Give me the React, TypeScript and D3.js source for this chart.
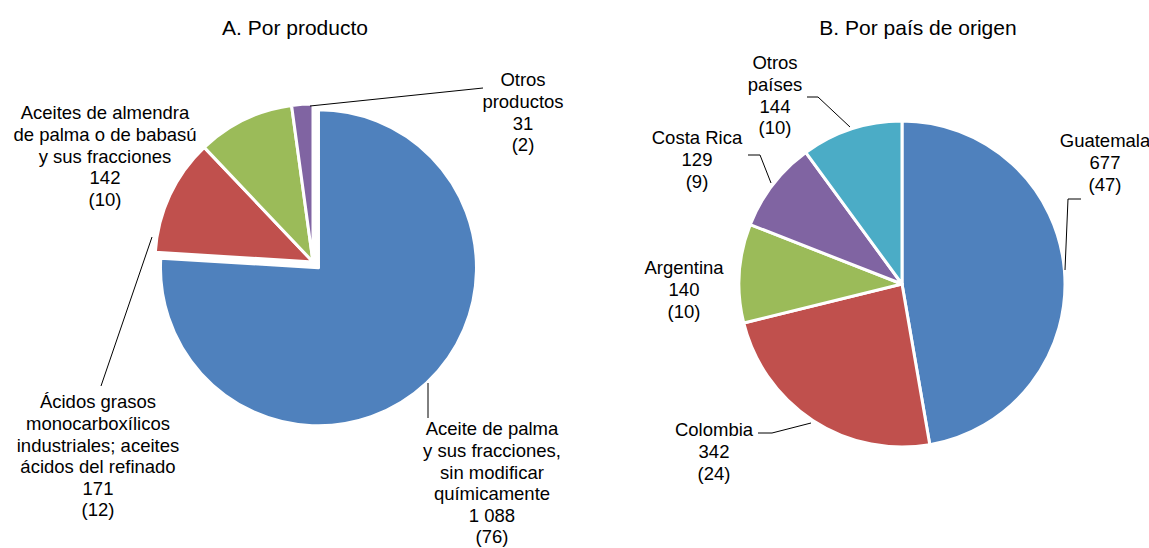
import React, { useEffect, useRef } from "react";
import * as d3 from "d3";

const productNames = [
  "Aceite de palma|y sus fracciones,|sin modificar|químicamente",
  "Ácidos grasos|monocarboxílicos|industriales; aceites|ácidos del refinado",
  "Aceites de almendra|de palma o de babasú|y sus fracciones",
  "Otros|productos",
];
const productValues = [1088, 171, 142, 31];
const productShares = [76, 12, 10, 2];

const countryNames = ["Guatemala", "Colombia", "Argentina", "Costa Rica", "Otros|países"];
const countryValues = [677, 342, 140, 129, 144];
const countryShares = [47, 24, 10, 9, 10];

const colors = ["#4F81BD", "#C0504D", "#9BBB59", "#8064A2", "#4BACC6"];

// label layout: [x, y of first line]
const productLabelPos: [number, number][] = [[492, 429], [98, 402], [105, 113], [523, 80]];
const countryLabelPos: [number, number][] = [[1105, 141], [714, 430], [684, 268], [697, 138], [775, 63]];

const productLeaders: [number, number][][] = [
  [[428, 383], [428, 418]],
  [[152, 237], [101, 386]],
  [],
  [[310, 106], [483, 88]],
];
const countryLeaders: [number, number][][] = [
  [[1065, 270], [1068, 199], [1081, 199]],
  [[758, 433], [772, 433], [811, 423]],
  [],
  [[748, 155], [760, 155], [771, 183]],
  [[807, 97], [818, 97], [850, 127]],
];

const fmt = (v: number) => d3.format(",")(v).replace(/,/g, " ");
const FONT = "'Liberation Sans', Arial, sans-serif";

function drawPie(
  svg: d3.Selection<SVGSVGElement, unknown, null, undefined>,
  names: string[],
  values: number[],
  shares: number[],
  cx: number,
  cy: number,
  r: number,
  explode: number[],
  labelPos: [number, number][],
  leaders: [number, number][][],
  title: string,
  titleX: number
) {
  const data = values.map((v, i) => ({ name: names[i], value: v, share: shares[i] }));
  const pie = d3.pie<any>().value((d) => d.value).sort(null);
  const arc = d3.arc<any>().innerRadius(0).outerRadius(r);

  const g = svg.append("g").attr("transform", `translate(${cx},${cy})`);
  g.selectAll("path")
    .data(pie(data))
    .enter()
    .append("path")
    .attr("d", arc)
    .attr("transform", (d) => {
      const a = (d.startAngle + d.endAngle) / 2;
      const e = explode[d.index] || 0;
      return `translate(${Math.sin(a) * e},${-Math.cos(a) * e})`;
    })
    .attr("fill", (d) => colors[d.index])
    .attr("stroke", "white")
    .attr("stroke-width", 3)
    .attr("stroke-linejoin", "round");

  const line = d3.line();
  leaders.forEach((pts) => {
    if (pts.length < 2) return;
    svg.append("path")
      .attr("d", line(pts))
      .attr("fill", "none")
      .attr("stroke", "#000")
      .attr("stroke-width", 1);
  });

  data.forEach((d, i) => {
    const lines = [...d.name.split("|"), fmt(d.value), `(${d.share})`];
    const t = svg.append("text")
      .attr("text-anchor", "middle")
      .style("font-family", FONT)
      .style("font-size", "18.5px")
      .attr("fill", "#000");
    lines.forEach((l, k) => {
      t.append("tspan")
        .attr("x", labelPos[i][0])
        .attr("y", labelPos[i][1] + k * 21.6)
        .attr("dy", "0.35em")
        .text(l);
    });
  });

  svg.append("text")
    .attr("x", titleX)
    .attr("y", 28)
    .attr("dy", "0.35em")
    .attr("text-anchor", "middle")
    .style("font-family", FONT)
    .style("font-size", "21px")
    .text(title);
}

const App = () => {
  const ref = useRef<SVGSVGElement>(null);

  useEffect(() => {
    const svg = d3.select(ref.current!);
    svg.selectAll("*").remove();
    drawPie(svg, productNames, productValues, productShares, 313, 262, 158,
      [8, 0, 0, 0], productLabelPos, productLeaders, "A. Por producto", 295);
    drawPie(svg, countryNames, countryValues, countryShares, 902, 284, 163,
      [0, 0, 0, 0, 0], countryLabelPos, countryLeaders, "B. Por país de origen", 918);
  }, []);

  return (
    <svg
      ref={ref}
      width={1149}
      height={548}
      style={{ position: "absolute", left: 0, top: 0, background: "white" }}
    />
  );
};

export default App;
